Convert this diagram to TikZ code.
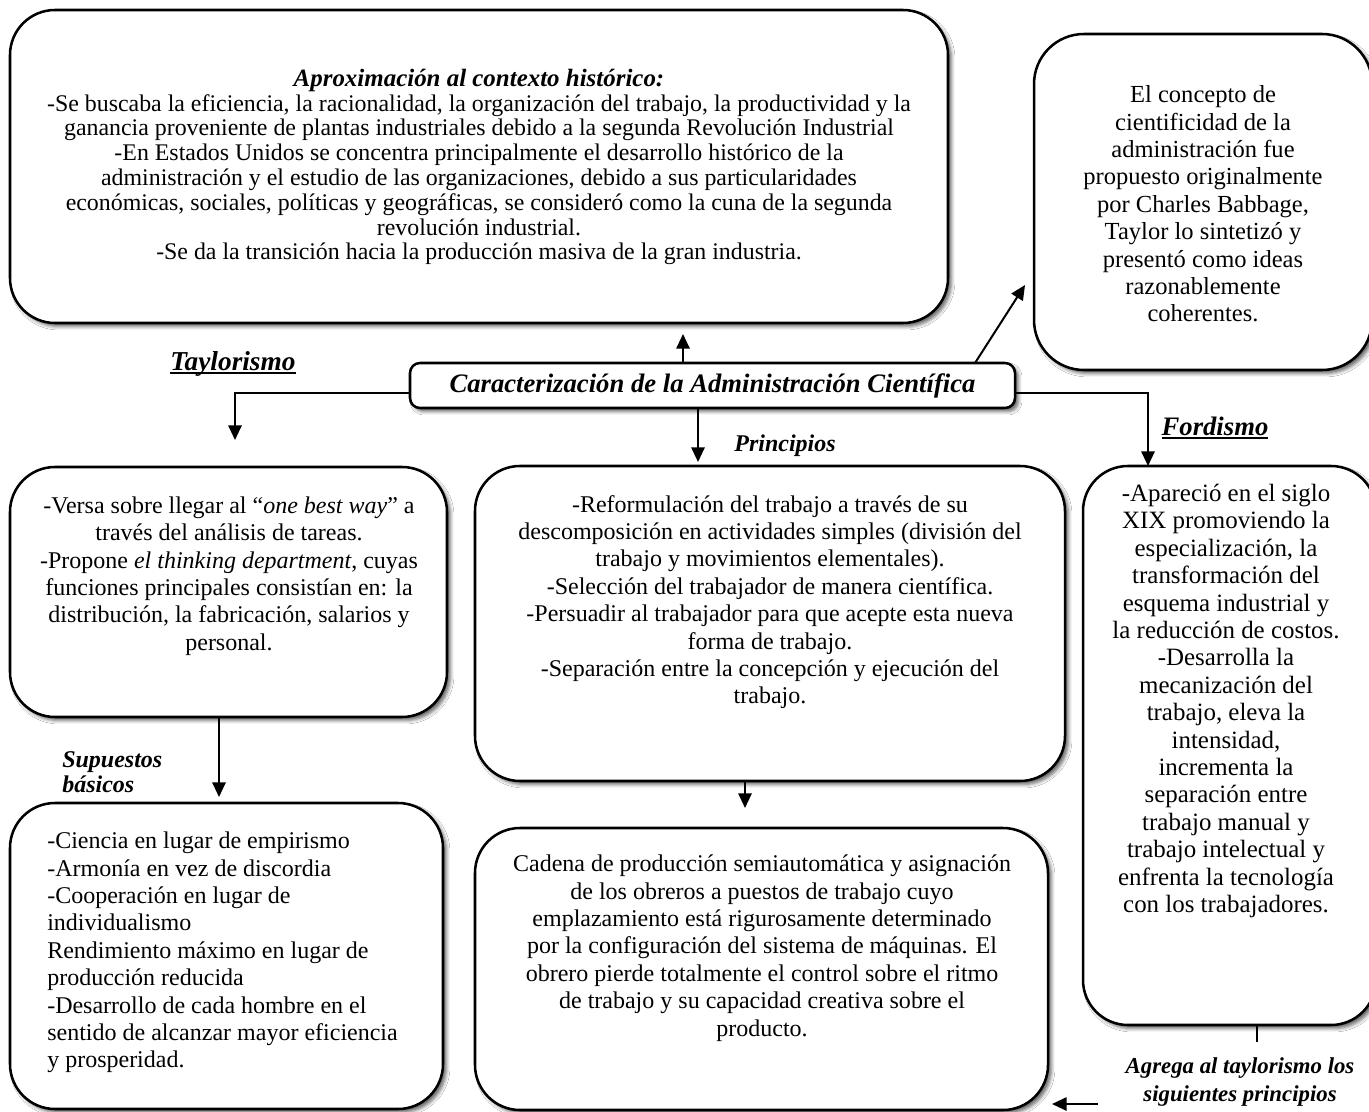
\documentclass[tikz,border=0pt]{standalone}
\usepackage{fontspec}
\setmainfont{Liberation Serif}
\usetikzlibrary{arrows.meta,shadows.blur}
\newdimen\pxu \pxu=0.75pt
\newcommand\ulabel[1]{\setbox0\hbox{#1}\rlap{\rule[-2.4pt]{\wd0}{1.1pt}}\box0}
\tikzset{
  box/.style={draw, line width=1.9pt, rounded corners=45\pxu, fill=white, inner sep=0pt, outer sep=0pt,
    blur shadow={shadow xshift=2.6pt, shadow yshift=-2.6pt, shadow blur radius=2.6pt, shadow opacity=60}},
  body/.style={align=center, inner sep=0pt, font=\fontsize{18}{20.55}\selectfont},
  lbl/.style={inner sep=0pt, font=\fontsize{18}{20}\selectfont\bfseries\itshape},
  biglbl/.style={inner sep=0pt, font=\fontsize{20.5}{22}\selectfont\bfseries\itshape},
  arr/.style={line width=1.5pt, -{Triangle[length=11pt,width=10pt]}},
  ln/.style={line width=1.5pt},
}
\begin{document}
\begin{tikzpicture}[x=0.75pt,y=-0.75pt]
\useasboundingbox (0,0) rectangle (1369,1112);
\fill[white] (0,0) rectangle (1369,1112);

% boxes
\node[box, minimum width=938\pxu, minimum height=313\pxu] (top) at (479,166.5) {};
\node[box, rounded corners=50\pxu, minimum width=338\pxu, minimum height=336\pxu] (rt) at (1203,202) {};
\node[box, rounded corners=10\pxu, minimum width=605\pxu, minimum height=45\pxu, font=\fontsize{20}{22}\selectfont\bfseries\itshape] (cen) at (712.5,385.5) {Caracterización de la Administración Científica};
\node[box, minimum width=437\pxu, minimum height=250\pxu] (lm) at (228.5,592) {};
\node[box, minimum width=590\pxu, minimum height=315\pxu] (mm) at (770,623.5) {};
\node[box, minimum width=293\pxu, minimum height=559\pxu] (fr) at (1229.5,745.5) {};
\node[box, minimum width=433\pxu, minimum height=306\pxu] (bl) at (226.5,956) {};
\node[box, minimum width=573\pxu, minimum height=282\pxu] (bm) at (761.5,969) {};

% texts
\node[body, font=\fontsize{17.9}{18.6}\selectfont] (topt) at (479,167) {{\fontsize{18.7}{18.6}\selectfont\bfseries\itshape Aproximación al contexto histórico:}\\
-Se buscaba la eficiencia, la racionalidad, la organización del trabajo, la productividad y la\\
ganancia proveniente de plantas industriales debido a la segunda Revolución Industrial\\
-En Estados Unidos se concentra principalmente el desarrollo histórico de la\\
administración y el estudio de las organizaciones, debido a sus particularidades\\
económicas, sociales, políticas y geográficas, se consideró como la cuna de la segunda\\
revolución industrial.\\
-Se da la transición hacia la producción masiva de la gran industria.};

\node[body, font=\fontsize{18.4}{20.55}\selectfont] (rtt) at (1203,204) {El concepto de\\cientificidad de la\\administración fue\\propuesto originalmente\\por Charles Babbage,\\Taylor lo sintetizó y\\presentó como ideas\\razonablemente\\coherentes.};

\node[body] (lmt) at (229,576) {-Versa sobre llegar al “\textit{one best way}” a\\través del análisis de tareas.\\-Propone \textit{el thinking department}, cuyas\\funciones principales consistían en: la\\distribución, la fabricación, salarios y\\personal.};

\node[body] (mmt) at (770,602) {-Reformulación del trabajo a través de su\\descomposición en actividades simples (división del\\trabajo y movimientos elementales).\\-Selección del trabajador de manera científica.\\-Persuadir al trabajador para que acepte esta nueva\\forma de trabajo.\\-Separación entre la concepción y ejecución del\\trabajo.};

\node[body, font=\fontsize{18.7}{20.55}\selectfont] (frt) at (1226,701) {-Apareció en el siglo\\XIX promoviendo la\\especialización, la\\transformación del\\esquema industrial y\\la reducción de costos.\\-Desarrolla la\\mecanización del\\trabajo, eleva la\\intensidad,\\incrementa la\\separación entre\\trabajo manual y\\trabajo intelectual y\\enfrenta la tecnología\\con los trabajadores.};

\node[body, align=left, anchor=west] (blt) at (47,952.5) {-Ciencia en lugar de empirismo\\-Armonía en vez de discordia\\-Cooperación en lugar de\\individualismo\\Rendimiento máximo en lugar de\\producción reducida\\-Desarrollo de cada hombre en el\\sentido de alcanzar mayor eficiencia\\y prosperidad.};

\node[body] (bmt) at (762,948) {Cadena de producción semiautomática y asignación\\de los obreros a puestos de trabajo cuyo\\emplazamiento está rigurosamente determinado\\por la configuración del sistema de máquinas. El\\obrero pierde totalmente el control sobre el ritmo\\de trabajo y su capacidad creativa sobre el\\producto.};

% labels
\node[biglbl] (tay) at (233,364) {\ulabel{Taylorismo}};
\node[lbl] (prin) at (785,446) {Principios};
\node[biglbl, font=\fontsize{20}{22}\selectfont\bfseries\itshape] (ford) at (1215,428) {\ulabel{Fordismo}};
\node[lbl, align=left, anchor=west, font=\fontsize{18}{18.75}\selectfont\bfseries\itshape] (sup) at (62,772.5) {Supuestos\\básicos};
\node[lbl, align=center, font=\fontsize{17.1}{21}\selectfont\bfseries\itshape] (agr) at (1240,1082) {Agrega al taylorismo los\\siguientes principios};

% connectors
\coordinate (tA) at (683,334);
\draw[arr] (cen.north -| tA) -- (tA);
\coordinate (sB) at (975,363);
\coordinate (tB) at (1025,285);
\draw[arr] (cen.north -| sB) -- (tB);
\coordinate (tL) at (235,440);
\draw[arr] (cen.west) ++(0,7.5) -| (tL);
\coordinate (tP) at (698,462);
\draw[arr] (cen.south -| tP) -- (tP);
\coordinate (tF) at (1148,466);
\draw[arr] (cen.east) ++(0,7.5) -| (tF);
\coordinate (tS) at (219,797);
\draw[arr] (lm.south -| tS) -- (tS);
\coordinate (tM) at (745,808);
\draw[arr] (mm.south -| tM) -- (tM);
\coordinate (fS) at (1257,1042);
\draw[ln] (fr.south -| fS) -- (fS);
\coordinate (aS) at (1098,1104);
\coordinate (aE) at (1052,1104);
\draw[arr] (aS) -- (aE);
\end{tikzpicture}
\end{document}
